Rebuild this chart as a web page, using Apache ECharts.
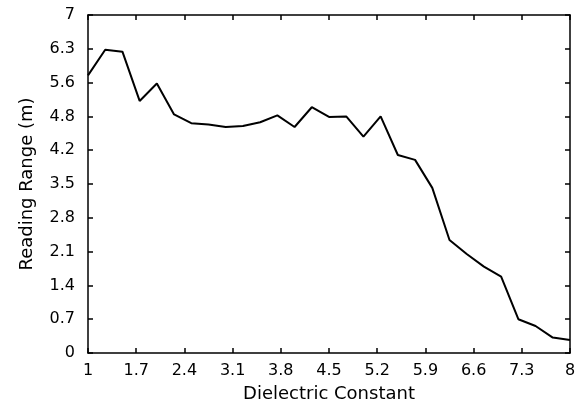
<!DOCTYPE html>
<html>
<head>
<meta charset="utf-8">
<script src="https://cdn.jsdelivr.net/npm/echarts@6/dist/echarts.min.js"></script>
<style>
  html, body { margin: 0; padding: 0; background: #fff; }
  #chart { width: 587px; height: 408px; }
</style>
</head>
<body>
<div id="chart"></div>
<script>
// dielectric constant (x) vs reading range (y)
var dielectric = [1, 1.25, 1.5, 1.75, 2, 2.25, 2.5, 2.75, 3, 3.25, 3.5, 3.75, 4, 4.25, 4.5,
    4.75, 5, 5.25, 5.5, 5.75, 6, 6.25, 6.5, 6.75, 7, 7.25, 7.5, 7.75, 8]
var range = [5.75, 6.28, 6.24, 5.22, 5.58, 4.94, 4.76, 4.73, 4.68, 4.70, 4.78, 4.92, 4.68, 5.09, 4.89,
    4.90, 4.48, 4.90, 4.10, 4.00, 3.42, 2.34, 2.05, 1.79, 1.58, 0.70, 0.56, 0.32, 0.27]
var xTicks = [1, 1.7, 2.4, 3.1, 3.8, 4.5, 5.2, 5.9, 6.6, 7.3, 8]
var yTicks = [0, 0.7, 1.4, 2.1, 2.8, 3.5, 4.2, 4.8, 5.6, 6.3, 7]
var yTickPos = [0, 0.7, 1.4, 2.1, 2.8, 3.5, 4.2, 4.9, 5.6, 6.3, 7]

var font = 'DejaVu Sans'
var chart = echarts.init(document.getElementById('chart'))

function frameAxis(pos, isX) {
    return {
        type: 'value',
        position: pos,
        min: isX ? 1 : 0,
        max: isX ? 8 : 7,
        axisLine: { show: true, onZero: false, lineStyle: { color: '#000', width: 1.5 } },
        axisTick: { show: true, inside: true, length: 5, customValues: isX ? xTicks : yTickPos,
            lineStyle: { color: '#000', width: 1.5 } },
        axisLabel: { show: false },
        splitLine: { show: false }
    }
}

var yLabelMap = {}
yTickPos.forEach(function(v, i) { yLabelMap[v.toFixed(1)] = yTicks[i] })

var xMain = frameAxis('bottom', true)
xMain.name = 'Dielectric Constant'
xMain.nameLocation = 'middle'
xMain.nameGap = 32
xMain.nameTextStyle = { fontFamily: font, fontSize: 18, color: '#000' }
xMain.axisLabel = { show: true, customValues: xTicks, fontFamily: font, fontSize: 16, color: '#000',
    margin: 10, formatter: function(v) { return String(Math.round(v * 10) / 10) } }

var yMain = frameAxis('left', false)
yMain.name = 'Reading Range (m)'
yMain.nameLocation = 'middle'
yMain.nameGap = 52
yMain.nameTextStyle = { fontFamily: font, fontSize: 18, color: '#000' }
yMain.axisLabel = { show: true, customValues: yTickPos, fontFamily: font, fontSize: 16, color: '#000',
    margin: 13, formatter: function(v) {
        var k = (Math.round(v * 10) / 10).toFixed(1)
        return String(yLabelMap[k] !== undefined ? yLabelMap[k] : v)
    } }

chart.setOption({
    animation: false,
    backgroundColor: '#fff',
    grid: { left: 88, right: 17, top: 15, bottom: 54 },
    xAxis: [xMain, frameAxis('top', true)],
    yAxis: [yMain, frameAxis('right', false)],
    series: [{
        type: 'line',
        xAxisIndex: 0,
        yAxisIndex: 0,
        data: dielectric.map(function(x, i) { return [x, range[i]] }),
        showSymbol: false,
        lineStyle: { color: '#000', width: 2 }
    }]
})
</script>
</body>
</html>
